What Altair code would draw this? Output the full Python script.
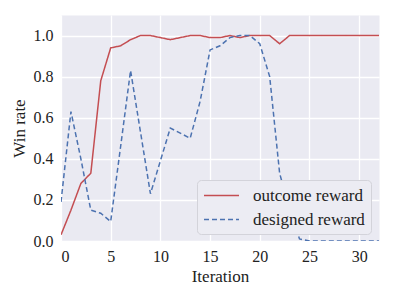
import altair as alt
import pandas as pd

iterations = list(range(33))
outcome = [0.03, 0.15, 0.28, 0.33, 0.78, 0.94, 0.95, 0.98, 1.0, 1.0, 0.99, 0.98,
           0.99, 1.0, 1.0, 0.99, 0.99, 1.0, 0.99, 1.0, 1.0, 1.0, 0.96, 1.0,
           1.0, 1.0, 1.0, 1.0, 1.0, 1.0, 1.0, 1.0, 1.0]
designed = [0.19, 0.63, 0.40, 0.15, 0.135, 0.095, 0.46, 0.83, 0.53, 0.23, 0.39,
            0.55, 0.525, 0.50, 0.68, 0.93, 0.95, 0.99, 1.0, 1.0, 0.96, 0.80,
            0.33, 0.15, 0.01, 0.0, 0.0, 0.0, 0.0, 0.0, 0.0, 0.0, 0.0]
series = ["outcome reward", "designed reward"]
colors = ["#C44E52", "#4C72B0"]
x_ticks = [0, 5, 10, 15, 20, 25, 30]
y_ticks = [0.0, 0.2, 0.4, 0.6, 0.8, 1.0]

rows = []
for i, x in enumerate(iterations):
    rows.append({"Iteration": x, "value": outcome[i], "series": series[0], "o": 0})
    rows.append({"Iteration": x, "value": designed[i], "series": series[1], "o": 1})
df = pd.DataFrame(rows)

FONT = "Liberation Serif"
TXT = "#222222"

legend = alt.Legend(title=None, orient="none", legendX=136, legendY=165,
                    fillColor="#ECECF3", strokeColor="#D3D3DA", cornerRadius=4,
                    padding=6, symbolType="M-2,0L2,0", symbolSize=306,
                    symbolStrokeWidth=1.5, symbolOffset=9, labelOffset=22,
                    rowPadding=6, labelFont=FONT, labelFontSize=17, labelColor=TXT)

chart = alt.Chart(df).mark_line(strokeWidth=1.5, clip=True).encode(
    x=alt.X("Iteration:Q", scale=alt.Scale(domain=[0, 32], nice=False, zero=False),
            axis=alt.Axis(values=x_ticks, format="d", title="Iteration",
                          labelFont=FONT, labelFontSize=16, labelColor=TXT,
                          labelPadding=7, titlePadding=4,
                          titleFont=FONT, titleFontSize=17, titleFontWeight="normal",
                          titleColor=TXT)),
    y=alt.Y("value:Q", scale=alt.Scale(domain=[0, 1.1], nice=False),
            axis=alt.Axis(values=y_ticks, format=".1f", title="Win rate",
                          labelFont=FONT, labelFontSize=16, labelColor=TXT,
                          labelPadding=8, titlePadding=5,
                          titleFont=FONT, titleFontSize=17, titleFontWeight="normal",
                          titleColor=TXT)),
    color=alt.Color("series:N", scale=alt.Scale(domain=series, range=colors), legend=legend),
    strokeDash=alt.StrokeDash("series:N", scale=alt.Scale(domain=series, range=[[1, 0], [5, 3]]),
                              legend=legend),
    order="o:Q",
).properties(
    width=318, height=226,
    autosize=alt.AutoSizeParams(type="none"),
    padding={"left": 53, "top": 7, "right": 7, "bottom": 50},
).configure(
    font=FONT
).configure_view(
    fill="#EAEAF2", stroke="transparent"
).configure_axis(
    grid=True, gridColor="white", gridWidth=1.3, domain=False, tickSize=0,
    labelFont=FONT, titleFont=FONT,
)

chart.save("out.html", embed_options={"renderer": "svg", "actions": False})
